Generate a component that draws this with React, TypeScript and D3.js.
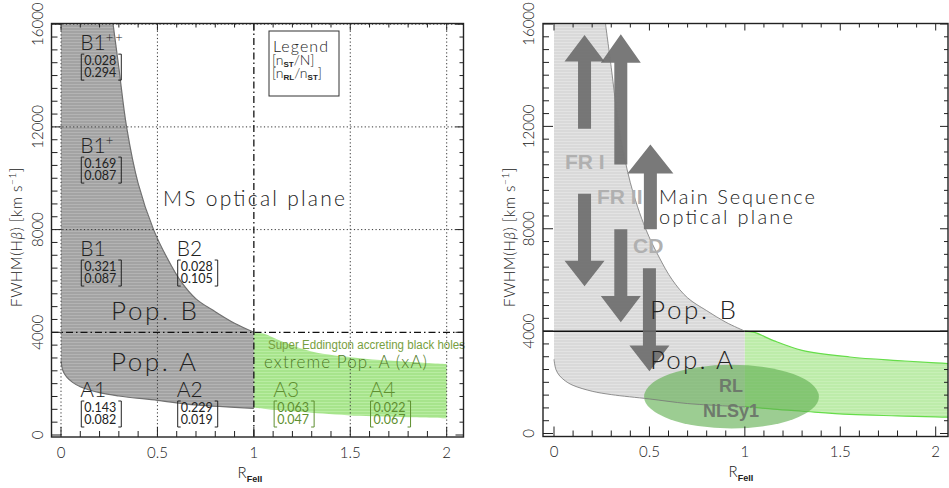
import React from "react";
import * as d3 from "d3";

const W = 949;
const H = 488;

// ---------- data ----------
const xMajor = [0, 0.5, 1, 1.5, 2];
const xMajorLabels = ["0", "0.5", "1", "1.5", "2"];
const yMajor = [0, 4000, 8000, 12000, 16000];
const yMajorLabels = ["0", "4000", "8000", "12000", "16000"];

// Pop. B upper boundary (R_FeII, FWHM)
const popBUpperR = [0.27, 0.3, 0.34, 0.4, 0.48, 0.55, 0.62, 0.7, 0.8, 0.9, 1.0];
const popBUpperF = [16000, 14300, 12000, 9800, 8000, 6900, 6000, 5300, 4800, 4350, 4000];
// lower boundary of the main sequence (x < 1)
const popALowerR = [0, 0.01, 0.03, 0.06, 0.1, 0.2, 0.3, 0.5, 0.7, 1.0];
const popALowerF = [2900, 2500, 2250, 2050, 1880, 1650, 1520, 1350, 1170, 1040];
// extreme Pop. A band
const xAR = [1.0, 1.05, 1.15, 1.3, 1.55, 1.8, 2.0, 2.1];
const xAUpperF = [4000, 3950, 3630, 3250, 2990, 2850, 2760, 2720];
const xALowerF = [1060, 1020, 950, 870, 745, 690, 650, 630];

// bins
const binNames = ["B1", "B1", "B1", "B2", "A1", "A2", "A3", "A4"];
const binSup = ["++", "+", "", "", "", "", "", ""];
const binNstN = ["0.028", "0.169", "0.321", "0.028", "0.143", "0.229", "0.063", "0.022"];
const binNrlNst = ["0.294", "0.087", "0.087", "0.105", "0.082", "0.019", "0.047", "0.067"];
const binR = [0.1, 0.1, 0.1, 0.6, 0.1, 0.6, 1.1, 1.6];
const binF = [14990, 10980, 6970, 6970, 1480, 1480, 1480, 1480];

// arrows (R, tail FWHM, head-base FWHM, tip FWHM)
const arrowR = [0.16, 0.35, 0.505, 0.16, 0.35, 0.5];
const arrowTail = [11910, 10510, 7980, 9370, 7980, 6460];
const arrowBase = [14530, 14490, 10160, 6750, 5370, 3440];
const arrowTip = [15570, 15600, 11290, 5750, 4350, 2430];

// RL NLSy1 ellipse
const ellipseR = 0.93;
const ellipseF = 1440;
const ellipseDR = 0.458;
const ellipseDF = 1246;

// ---------- scales ----------
const xL = d3.scaleLinear().domain([0, 2]).range([61, 446.7]);
const yL = d3.scaleLinear().domain([0, 16000]).range([435, 24.2]);
const xR = d3.scaleLinear().domain([0, 2]).range([554, 935.7]);
const yR = d3.scaleLinear().domain([0, 16000]).range([433.5, 24]);

const frameL = { x0: 51.5, x1: 463.5, y0: 23.5, y1: 437 };
const frameR = { x0: 543, x1: 948, y0: 23.5, y1: 436.5 };

const THIN = "Lato, 'Open Sans', 'DejaVu Sans', sans-serif";
const BOLD = "'Liberation Sans', Arial, sans-serif";

function curvePath(xs: any, ys: any, R: number[], F: number[]) {
  const line = d3
    .line<number>()
    .x((i) => xs(R[i]))
    .y((i) => ys(F[i]))
    .curve(d3.curveCatmullRom.alpha(0.5));
  return line(d3.range(R.length)) as string;
}

function seqPaths(xs: any, ys: any) {
  const upper = curvePath(xs, ys, popBUpperR, popBUpperF);
  const lowerRevR = popALowerR.slice().reverse();
  const lowerRevF = popALowerF.slice().reverse();
  const lowerRev = curvePath(xs, ys, lowerRevR, lowerRevF);
  const lower = curvePath(xs, ys, popALowerR, popALowerF);
  const fill =
    `M${xs(0)},${ys(16000)}` +
    upper.replace(/^M/, "L") +
    lowerRev.replace(/^M/, "L") +
    "Z";
  return { fill, upper, lower };
}

function xAPaths(xs: any, ys: any, maxR: number) {
  const idx = d3.range(xAR.length).filter((i) => xAR[i] <= maxR + 1e-9);
  const R = idx.map((i) => xAR[i]);
  const U = idx.map((i) => xAUpperF[i]);
  const Lo = idx.map((i) => xALowerF[i]);
  const upper = curvePath(xs, ys, R, U);
  const lower = curvePath(xs, ys, R, Lo);
  const lowerRev = curvePath(xs, ys, R.slice().reverse(), Lo.slice().reverse());
  const fill = upper + lowerRev.replace(/^M/, "L") + "Z";
  return { fill, upper, lower };
}

function Axes({ xs, ys, f, tickLabelX, yTitleX, xLabelBase }: any) {
  const xMinor = d3.range(0, 2.0001, 0.1).map((v) => Math.round(v * 10) / 10);
  const yMinor = d3.range(0, 16001, 500);
  const isMajX = (v: number) => Math.abs(v * 2 - Math.round(v * 2)) < 1e-6;
  const isMajY = (v: number) => v % 4000 === 0;
  const stroke = "#222";
  return (
    <g>
      {xMinor.map((v, i) => {
        const X = xs(v);
        if (X > f.x1 || X < f.x0) return null;
        const maj = isMajX(v);
        return (
          <g key={"xt" + i}>
            <line x1={X} x2={X} y1={f.y1} y2={f.y1 - (maj ? 10 : 6)} stroke={stroke} strokeWidth={1} />
            <line x1={X} x2={X} y1={f.y0} y2={f.y0 + (maj ? 7 : 4)} stroke={stroke} strokeWidth={1} />
          </g>
        );
      })}
      {yMinor.map((v, i) => {
        const Y = ys(v);
        const maj = isMajY(v);
        return (
          <g key={"yt" + i}>
            <line x1={f.x0} x2={f.x0 + (maj ? 10 : 6)} y1={Y} y2={Y} stroke={stroke} strokeWidth={1} />
            <line x1={f.x1} x2={f.x1 - (maj ? 8 : 4)} y1={Y} y2={Y} stroke={stroke} strokeWidth={1} />
          </g>
        );
      })}
      <rect x={f.x0} y={f.y0} width={f.x1 - f.x0} height={f.y1 - f.y0} fill="none" stroke={stroke} strokeWidth={1.4} />
      {xMajor.map((v, i) => (
        <text key={"xl" + i} x={xs(v)} y={xLabelBase} textAnchor="middle" fontFamily={THIN} fontWeight={300} fontSize={15} fill="#222">
          {xMajorLabels[i]}
        </text>
      ))}
      {yMajor.map((v, i) => (
        <text
          key={"yl" + i}
          transform={`translate(${tickLabelX},${ys(v)}) rotate(-90)`}
          dy="0.35em"
          textAnchor="middle"
          fontFamily={THIN}
          fontWeight={300}
          fontSize={15}
          fill="#222"
        >
          {yMajorLabels[i]}
        </text>
      ))}
      <text
        transform={`translate(${yTitleX},237) rotate(-90)`}
        dy="0.35em"
        textAnchor="middle"
        fontFamily={THIN}
        fontWeight={300}
        fontSize={15}
        letterSpacing={0.6}
        fill="#222"
      >
        FWHM(H<tspan fontStyle="italic">β</tspan>)  [km s
        <tspan dy={-6} fontSize={10}>−1</tspan>
        <tspan dy={6}>]</tspan>
      </text>
      <text x={xs(1) - 4} y={xLabelBase + 20} textAnchor="middle" fontFamily={THIN} fontWeight={300} fontSize={15} fill="#222">
        R<tspan dy={4} fontSize={9} fontWeight={700} fontFamily={BOLD}>FeII</tspan>
      </text>
    </g>
  );
}

function Stripes({ id, base, stripe }: any) {
  return (
    <pattern id={id} patternUnits="userSpaceOnUse" width={6} height={3}>
      <rect x={0} y={0} width={6} height={3} fill={base} />
      <rect x={0} y={0} width={6} height={1} fill={stripe} />
    </pattern>
  );
}

function BinLabel({ i }: any) {
  const X = xL(binR[i]);
  const Y = yL(binF[i]);
  const green = i >= 6;
  const col = green ? "#5f8f30" : "#222";
  const bx0 = X + 1;
  const bx1 = X + 41;
  const bt = Y + 4;
  const bb = Y + 30;
  return (
    <g>
      <text x={X} y={Y} fontFamily={THIN} fontWeight={300} fontSize={21} fill={col}>
        {binNames[i]}
        {binSup[i] ? (
          <tspan dy={-8} fontSize={13} letterSpacing={2}>
            {binSup[i]}
          </tspan>
        ) : null}
      </text>
      <path
        d={`M${bx0 + 3},${bt} L${bx0},${bt} L${bx0},${bb} L${bx0 + 3},${bb} M${bx1 - 3},${bt} L${bx1},${bt} L${bx1},${bb} L${bx1 - 3},${bb}`}
        fill="none"
        stroke={col}
        strokeWidth={1}
      />
      <text x={X + 4} y={Y + 15} fontFamily={THIN} fontWeight={400} fontSize={12.5} fill={col}>
        {binNstN[i]}
      </text>
      <text x={X + 4} y={Y + 27} fontFamily={THIN} fontWeight={400} fontSize={12.5} fill={col}>
        {binNrlNst[i]}
      </text>
    </g>
  );
}

function LeftPanel() {
  const seq = seqPaths(xL, yL);
  const xa = xAPaths(xL, yL, 2);
  const f = frameL;
  const dotted = "1.2,2.4";
  const dashDot = "7,3,1.5,3";
  return (
    <g>
      <defs>
        <clipPath id="clipL">
          <rect x={f.x0} y={f.y0} width={f.x1 - f.x0} height={f.y1 - f.y0} />
        </clipPath>
        <Stripes id="grayL" base="#a3a3a3" stripe="#b4b4b4" />
        <Stripes id="greenL" base="#a7e48c" stripe="#b9eda2" />
      </defs>
      <g clipPath="url(#clipL)">
        <path d={seq.fill} fill="url(#grayL)" />
        <path d={seq.upper} fill="none" stroke="#707070" strokeWidth={1.2} />
        <path d={seq.lower} fill="none" stroke="#707070" strokeWidth={1.2} />
        <path d={xa.fill} fill="url(#greenL)" />
        {[0, 0.5, 1.5, 2].map((v) => (
          <line key={"gx" + v} x1={xL(v)} x2={xL(v)} y1={f.y0} y2={f.y1} stroke="#333" strokeWidth={1} strokeDasharray={dotted} />
        ))}
        {[8000, 12000, 16000].map((v) => (
          <line key={"gy" + v} x1={f.x0} x2={f.x1} y1={yL(v)} y2={yL(v)} stroke="#333" strokeWidth={1} strokeDasharray={dotted} />
        ))}
        <line x1={xL(1)} x2={xL(1)} y1={f.y0} y2={f.y1} stroke="#111" strokeWidth={1.3} strokeDasharray={dashDot} />
        <line x1={f.x0} x2={f.x1} y1={yL(4000)} y2={yL(4000)} stroke="#111" strokeWidth={1.3} strokeDasharray={dashDot} />
      </g>
      {d3.range(binNames.length).map((i) => (
        <BinLabel key={"b" + i} i={i} />
      ))}
      <text x={163} y={206} fontFamily={THIN} fontWeight={300} fontSize={21} textLength={182} lengthAdjust="spacing" fill="#222">
        MS optical plane
      </text>
      <text x={111} y={320} fontFamily={THIN} fontWeight={300} fontSize={26} textLength={86} lengthAdjust="spacing" fill="#222">
        Pop. B
      </text>
      <text x={111} y={371} fontFamily={THIN} fontWeight={300} fontSize={26} textLength={85} lengthAdjust="spacing" fill="#222">
        Pop. A
      </text>
      <text x={268} y={349} fontFamily={BOLD} fontSize={12} textLength={197} lengthAdjust="spacingAndGlyphs" fill="#78a040">
        Super Eddington accreting black holes
      </text>
      <text x={264} y={368} fontFamily={THIN} fontWeight={300} fontSize={17} textLength={163} lengthAdjust="spacing" fill="#4f7a26">
        extreme Pop. A (xA)
      </text>
      <rect x={269} y={31} width={70} height={65} fill="white" stroke="#333" strokeWidth={1} />
      <text x={273} y={52} fontFamily={THIN} fontWeight={300} fontSize={16} textLength={55} lengthAdjust="spacing" fill="#222">
        Legend
      </text>
      <text x={272} y={65} fontFamily={THIN} fontWeight={300} fontSize={14} fill="#222">
        [n<tspan dy={2} fontSize={8} fontWeight={700} fontFamily={BOLD}>ST</tspan>
        <tspan dy={-2}>/N]</tspan>
      </text>
      <text x={272} y={78} fontFamily={THIN} fontWeight={300} fontSize={14} fill="#222">
        [n<tspan dy={2} fontSize={8} fontWeight={700} fontFamily={BOLD}>RL</tspan>
        <tspan dy={-2}>/n</tspan>
        <tspan dy={2} fontSize={8} fontWeight={700} fontFamily={BOLD}>ST</tspan>
        <tspan dy={-2}>]</tspan>
      </text>
      <Axes xs={xL} ys={yL} f={f} tickLabelX={38} yTitleX={17} xLabelBase={458} />
    </g>
  );
}

function arrowPoints(i: number) {
  const cx = xR(arrowR[i]);
  const yt = yR(arrowTail[i]);
  const yb = yR(arrowBase[i]);
  const yp = yR(arrowTip[i]);
  const sw = 6.5;
  const hw = i === 2 ? 23 : 20;
  return [
    [cx - sw, yt],
    [cx - sw, yb],
    [cx - hw, yb],
    [cx, yp],
    [cx + hw, yb],
    [cx + sw, yb],
    [cx + sw, yt],
  ]
    .map((p) => p.join(","))
    .join(" ");
}

function RightPanel() {
  const seq = seqPaths(xR, yR);
  const xa = xAPaths(xR, yR, 2.1);
  const f = frameR;
  return (
    <g>
      <defs>
        <clipPath id="clipR">
          <rect x={f.x0} y={f.y0} width={f.x1 - f.x0} height={f.y1 - f.y0} />
        </clipPath>
        <Stripes id="grayR" base="#d9d9d9" stripe="#e3e3e3" />
        <Stripes id="greenR" base="#bdecaa" stripe="#c8f0b7" />
      </defs>
      <g clipPath="url(#clipR)">
        <path d={seq.fill} fill="url(#grayR)" />
        <path d={xa.fill} fill="url(#greenR)" />
        <path d={xa.upper} fill="none" stroke="#66dd4a" strokeWidth={1.2} />
        <path d={xa.lower} fill="none" stroke="#66dd4a" strokeWidth={1.2} />
        <line x1={f.x0} x2={f.x1} y1={yR(4000)} y2={yR(4000)} stroke="#111" strokeWidth={1.5} />
        <ellipse
          cx={xR(ellipseR)}
          cy={yR(ellipseF)}
          rx={xR(ellipseR + ellipseDR) - xR(ellipseR)}
          ry={yR(ellipseF - ellipseDF) - yR(ellipseF)}
          fill="#5fae4f"
          fillOpacity={0.62}
        />
        {d3.range(arrowR.length).map((i) => (
          <polygon key={"a" + i} points={arrowPoints(i)} fill="#6a6a6a" fillOpacity={0.9} />
        ))}
        <path d={seq.upper} fill="none" stroke="#777" strokeOpacity={0.8} strokeWidth={1} />
        <path d={seq.lower} fill="none" stroke="#777" strokeOpacity={0.8} strokeWidth={1} />
      </g>
      <text x={565} y={169} fontFamily={BOLD} fontWeight={700} fontSize={21} fill="#b0b0b0">FR I</text>
      <text x={597} y={204} fontFamily={BOLD} fontWeight={700} fontSize={21} fill="#b0b0b0">FR II</text>
      <text x={633} y={253} fontFamily={BOLD} fontWeight={700} fontSize={21} fill="#b0b0b0">CD</text>
      <text x={731} y={392} textAnchor="middle" fontFamily={BOLD} fontWeight={700} fontSize={18} fill="#6e7a6c">RL</text>
      <text x={731} y={417} textAnchor="middle" fontFamily={BOLD} fontWeight={700} fontSize={18} fill="#6e7a6c">NLSy1</text>
      <text x={659} y={204} fontFamily={THIN} fontWeight={300} fontSize={20} textLength={156} lengthAdjust="spacing" fill="#222">
        Main Sequence
      </text>
      <text x={659} y={224} fontFamily={THIN} fontWeight={300} fontSize={20} textLength={134} lengthAdjust="spacing" fill="#222">
        optical plane
      </text>
      <text x={650} y={319} fontFamily={THIN} fontWeight={300} fontSize={26} textLength={86} lengthAdjust="spacing" fill="#222">
        Pop. B
      </text>
      <text x={650} y={369} fontFamily={THIN} fontWeight={300} fontSize={26} textLength={83} lengthAdjust="spacing" fill="#222">
        Pop. A
      </text>
      <Axes xs={xR} ys={yR} f={f} tickLabelX={529} yTitleX={510} xLabelBase={457} />
    </g>
  );
}

export default function App() {
  return (
    <svg
      width={W}
      height={H}
      viewBox={`0 0 ${W} ${H}`}
      style={{ position: "absolute", left: 0, top: 0, background: "white" }}
    >
      <rect x={0} y={0} width={W} height={H} fill="white" />
      <LeftPanel />
      <RightPanel />
    </svg>
  );
}
